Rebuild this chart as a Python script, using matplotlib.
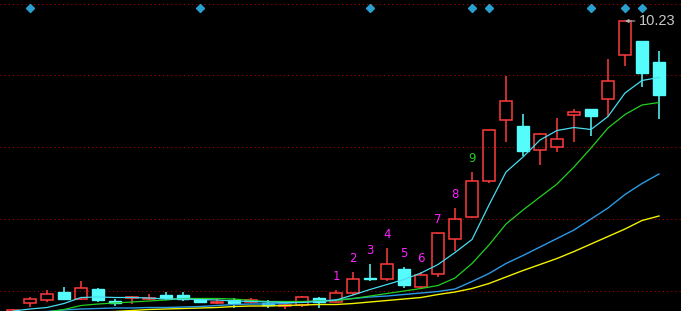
import matplotlib
matplotlib.use("Agg")
import matplotlib.pyplot as plt
from matplotlib.patches import Rectangle

# ---- data (prices) ----
opens = [4.41, 4.59, 4.65, 4.81, 4.68, 4.87, 4.63, 4.69, 4.68, 4.75,
         4.75, 4.68, 4.59, 4.65, 4.61, 4.59, 4.54, 4.56, 4.69, 4.62,
         4.80, 5.09, 5.08, 5.27, 4.92, 5.18, 5.88, 6.32, 7.04, 8.26,
         8.13, 7.66, 7.72, 8.36, 8.47, 8.68, 9.56, 9.83, 9.41]
highs = [4.47, 4.71, 4.85, 4.91, 5.03, 4.89, 4.67, 4.73, 4.77, 4.81,
         4.81, 4.69, 4.67, 4.69, 4.69, 4.65, 4.59, 4.73, 4.71, 4.85,
         5.21, 5.37, 5.69, 5.32, 5.21, 5.99, 6.49, 7.21, 8.05, 9.14,
         8.37, 7.99, 8.30, 8.48, 8.48, 9.47, 10.23, 9.84, 9.63]
lows = [4.39, 4.51, 4.61, 4.66, 4.65, 4.61, 4.53, 4.57, 4.65, 4.65,
        4.63, 4.61, 4.57, 4.49, 4.59, 4.49, 4.47, 4.51, 4.49, 4.59,
        4.75, 5.03, 5.03, 4.90, 4.89, 5.12, 5.64, 6.30, 6.99, 7.82,
        7.53, 7.36, 7.62, 7.82, 7.94, 8.32, 9.34, 8.92, 8.28]
closes = [4.45, 4.67, 4.77, 4.67, 4.89, 4.65, 4.59, 4.71, 4.69, 4.70,
          4.67, 4.62, 4.61, 4.59, 4.65, 4.55, 4.55, 4.71, 4.62, 4.79,
          5.08, 5.08, 5.38, 4.95, 5.16, 5.98, 6.28, 7.03, 8.05, 8.64,
          7.64, 7.98, 7.88, 8.42, 8.33, 9.03, 10.23, 9.20, 8.76]

ma5 = [4.43, 4.47, 4.50, 4.58, 4.70, 4.71, 4.70, 4.70, 4.69, 4.67,
       4.67, 4.66, 4.65, 4.63, 4.62, 4.61, 4.60, 4.60, 4.62, 4.65,
       4.75, 4.86, 4.96, 5.06, 5.19, 5.36, 5.60, 5.86, 6.55, 7.21,
       7.51, 7.85, 8.04, 8.10, 8.06, 8.32, 8.79, 9.04, 9.10]
ma10 = [4.33, 4.37, 4.41, 4.46, 4.54, 4.57, 4.59, 4.61, 4.63, 4.65,
        4.68, 4.68, 4.68, 4.67, 4.64, 4.62, 4.62, 4.62, 4.63, 4.64,
        4.68, 4.73, 4.78, 4.83, 4.88, 4.94, 5.09, 5.38, 5.75, 6.17,
        6.45, 6.71, 6.97, 7.31, 7.69, 8.09, 8.36, 8.55, 8.60]
ma20 = [4.39, 4.41, 4.42, 4.45, 4.47, 4.48, 4.49, 4.49, 4.50, 4.50,
        4.51, 4.52, 4.54, 4.56, 4.57, 4.57, 4.58, 4.61, 4.63, 4.65,
        4.68, 4.71, 4.73, 4.76, 4.79, 4.82, 4.87, 5.02, 5.18, 5.38,
        5.54, 5.71, 5.88, 6.05, 6.27, 6.49, 6.76, 6.98, 7.17]
ma30 = [4.33, 4.35, 4.37, 4.39, 4.40, 4.41, 4.42, 4.44, 4.46, 4.47,
        4.48, 4.49, 4.50, 4.52, 4.53, 4.53, 4.54, 4.55, 4.56, 4.56,
        4.58, 4.61, 4.64, 4.67, 4.70, 4.76, 4.81, 4.88, 4.98, 5.11,
        5.24, 5.36, 5.48, 5.62, 5.77, 5.92, 6.07, 6.24, 6.33]

count_idx = [19, 20, 21, 22, 23, 24, 25, 26, 27]
count_labels = ["1", "2", "3", "4", "5", "6", "7", "8", "9"]
diamond_idx = [1, 11, 21, 27, 28, 34, 36, 37]
grid_levels = [10.57, 9.15, 7.71, 6.27, 4.83]
peak_label = "10.23"
peak_idx = 36
peak_price = 10.23

# ---- styling ----
UP = "#ff3b3b"
DOWN = "#55fcfc"
BG = "#000000"

fig = plt.figure(figsize=(6.81, 3.11), dpi=100, facecolor=BG)
ax = fig.add_axes([0, 0, 1, 1])
ax.set_facecolor(BG)
for s in ax.spines.values():
    s.set_visible(False)
ax.set_xticks([])
ax.set_yticks([])

ax.set_xlim(-13 / 17, (681 - 13) / 17)
ax.set_ylim(4.43, 10.65)

for g in grid_levels:
    ax.axhline(g, color="#b00000", lw=0.75, ls=(0, (1, 3)), zorder=1)

w = 0.74
for i, (o, h, l, c) in enumerate(zip(opens, highs, lows, closes)):
    if c > o:
        ax.vlines(i, c, h, color=UP, lw=1.1, zorder=2)
        ax.vlines(i, l, o, color=UP, lw=1.1, zorder=2)
        ax.add_patch(Rectangle((i - w / 2, o), w, c - o, facecolor="none",
                               edgecolor=UP, lw=1.1, zorder=3))
    else:
        ax.vlines(i, l, h, color=DOWN, lw=1.1, zorder=2)
        ax.add_patch(Rectangle((i - w / 2, c), w, max(o - c, 0.004),
                               facecolor=DOWN, edgecolor=DOWN, lw=1.0, zorder=3))

xs = list(range(len(closes)))
ax.plot(xs, ma30, color="#f2f200", lw=1.0, zorder=4)
ax.plot(xs, ma20, color="#2a9be6", lw=1.0, zorder=4)
ax.plot(xs, ma10, color="#22d022", lw=0.9, zorder=4)
ax.plot(xs, ma5, color="#48dcf0", lw=0.9, zorder=4)

for idx, lab in zip(count_idx, count_labels):
    col = "#22cc22" if lab == "9" else "#ff22ff"
    ax.annotate(lab, xy=(idx, highs[idx]), xytext=(0, 9.4),
                textcoords="offset points", ha="center", va="center",
                color=col, fontsize=8.5, family="DejaVu Sans", zorder=6)

ax.plot(diamond_idx, [10.49] * len(diamond_idx), ls="none", marker="D",
        markersize=4.4, color="#2aa0d0", zorder=6)

ax.annotate(peak_label, xy=(peak_idx, peak_price),
            xytext=((639 - 13) / 17, peak_price), textcoords="data",
            ha="left", va="center", color="#c8c8c8", fontsize=10.5,
            family="Liberation Sans",
            arrowprops=dict(arrowstyle="-|>", color="#b4b4b4", lw=0.8,
                            shrinkA=1, shrinkB=0, mutation_scale=5),
            zorder=6)

fig.savefig("out.png", dpi=100, facecolor=BG)
